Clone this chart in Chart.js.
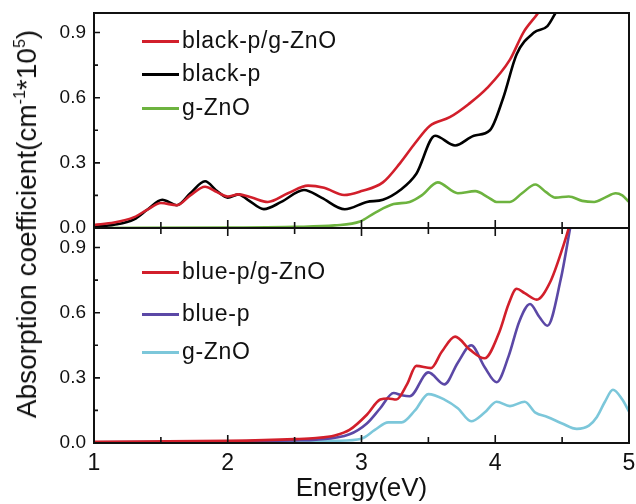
<!DOCTYPE html>
<html lang="en">
<head>
  <meta charset="UTF-8" />
  <title>Absorption spectra</title>
  <script src="https://cdn.jsdelivr.net/npm/chart.js"></script>
  <style>
    body { margin: 0; background: #fff; font-family: "Liberation Sans", Arial, sans-serif; }
    .wrap { position: relative; width: 636px; height: 504px; overflow: hidden; }
    .wrap canvas { position: absolute; left: 0; top: 0; }
    .ylabel { position: absolute; left: 27px; top: 224px; transform: translate(-50%, -50%) rotate(-90deg);
      white-space: nowrap; font-size: 28px; color: #111; }
    .ylabel sup { font-size: 16px; vertical-align: 11px; line-height: 0; }
    .legend { position: absolute; left: 142px; font-size: 23px; letter-spacing: 0.7px; color: #111; }
    .legend .row { position: absolute; left: 0; white-space: nowrap; height: 26px; line-height: 26px; }
    .legend .swatch { display: inline-block; width: 37px; height: 3px; vertical-align: middle; margin-right: 3px; }
  </style>
</head>
<body>
  <div class="wrap">
    <canvas id="topChart" width="636" height="504"></canvas>
    <canvas id="bottomChart" width="636" height="504"></canvas>
    <div class="ylabel">Absorption coefficient(cm<sup>-1</sup>*10<sup>5</sup>)</div>
    <div class="legend" id="topLegend" style="top:27px"></div>
    <div class="legend" id="bottomLegend" style="top:258px"></div>
  </div>

  <script>
    // tick labels
    const xTicks = [1, 2, 3, 4, 5];
    const yTicks = [0, 0.3, 0.6, 0.9];

    // top panel: black phosphorus
    const blackPZnO_x = [1.0, 1.15, 1.3, 1.4, 1.5, 1.62, 1.72, 1.83, 1.92, 2.0, 2.08, 2.18, 2.3, 2.45, 2.6, 2.72, 2.87, 3.0, 3.16, 3.29, 3.4, 3.51, 3.66, 3.8, 3.94, 4.11, 4.21, 4.32, 4.38];
    const blackPZnO_y = [0.014, 0.025, 0.05, 0.085, 0.115, 0.105, 0.15, 0.19, 0.165, 0.145, 0.155, 0.14, 0.12, 0.16, 0.195, 0.185, 0.152, 0.17, 0.21, 0.30, 0.39, 0.47, 0.51, 0.57, 0.645, 0.775, 0.90, 0.99, 1.05];
    const blackP_x = [1.0, 1.15, 1.3, 1.4, 1.51, 1.62, 1.72, 1.83, 1.92, 2.0, 2.08, 2.15, 2.27, 2.4, 2.57, 2.7, 2.875, 3.04, 3.16, 3.29, 3.41, 3.55, 3.70, 3.84, 3.96, 4.06, 4.16, 4.29, 4.39, 4.45, 4.5];
    const blackP_y = [0.005, 0.015, 0.04, 0.085, 0.13, 0.105, 0.16, 0.215, 0.17, 0.14, 0.155, 0.13, 0.087, 0.12, 0.175, 0.14, 0.086, 0.12, 0.13, 0.175, 0.25, 0.425, 0.38, 0.425, 0.45, 0.60, 0.80, 0.90, 0.93, 0.99, 1.05];
    const gZnOTop_x = [1.0, 2.0, 2.5, 2.8, 2.99, 3.1, 3.24, 3.36, 3.45, 3.57, 3.72, 3.85, 3.95, 4.01, 4.11, 4.2, 4.30, 4.38, 4.45, 4.55, 4.65, 4.74, 4.82, 4.90, 4.95, 5.0];
    const gZnOTop_y = [0.0, 0.002, 0.005, 0.012, 0.03, 0.07, 0.11, 0.12, 0.15, 0.21, 0.16, 0.17, 0.14, 0.12, 0.12, 0.16, 0.20, 0.165, 0.14, 0.145, 0.125, 0.12, 0.14, 0.16, 0.15, 0.12];

    // bottom panel: blue phosphorus
    const bluePZnO_x = [1.0, 2.0, 2.5, 2.66, 2.8, 2.91, 3.04, 3.14, 3.2, 3.26, 3.34, 3.41, 3.52, 3.60, 3.70, 3.81, 3.92, 4.03, 4.1, 4.16, 4.22, 4.31, 4.41, 4.51, 4.55];
    const bluePZnO_y = [0.005, 0.01, 0.018, 0.023, 0.035, 0.06, 0.13, 0.2, 0.205, 0.2, 0.27, 0.355, 0.345, 0.42, 0.49, 0.43, 0.39, 0.51, 0.64, 0.71, 0.69, 0.66, 0.74, 0.91, 0.99];
    const blueP_x = [1.0, 2.0, 2.5, 2.66, 2.91, 3.04, 3.14, 3.24, 3.30, 3.36, 3.50, 3.62, 3.72, 3.82, 3.92, 4.01, 4.1, 4.18, 4.26, 4.33, 4.39, 4.49, 4.56];
    const blueP_y = [0.003, 0.007, 0.012, 0.015, 0.04, 0.09, 0.16, 0.23, 0.22, 0.215, 0.325, 0.27, 0.37, 0.45, 0.35, 0.28, 0.40, 0.56, 0.64, 0.58, 0.54, 0.755, 0.99];
    const gZnOBot_x = [1.0, 2.0, 2.5, 2.8, 3.0, 3.1, 3.2, 3.3, 3.4, 3.5, 3.62, 3.72, 3.82, 3.92, 4.01, 4.11, 4.22, 4.3, 4.39, 4.5, 4.61, 4.7, 4.76, 4.82, 4.88, 4.95, 5.0];
    const gZnOBot_y = [0.002, 0.004, 0.006, 0.01, 0.02, 0.06, 0.095, 0.095, 0.15, 0.225, 0.2, 0.16, 0.10, 0.14, 0.19, 0.17, 0.19, 0.14, 0.12, 0.09, 0.065, 0.08, 0.12, 0.19, 0.245, 0.2, 0.145];

    const topNames = ["black-p/g-ZnO", "black-p", "g-ZnO"];
    const bottomNames = ["blue-p/g-ZnO", "blue-p", "g-ZnO"];
    const topColors = ["#d21f2b", "#000000", "#6db33f"];
    const bottomColors = ["#d21f2b", "#5b48a6", "#7cc7da"];

    const FONT = "'Liberation Sans', Arial, sans-serif";
    const W = 636, H = 504;
    const LEFT = 94, RIGHT = 629, TOP = 13, MID = 228, BOTTOM = 443;

    const pts = (xs, ys) => xs.map((x, i) => ({ x, y: ys[i] }));

    function makeSet(label, xs, ys, color) {
      return {
        label, data: pts(xs, ys), borderColor: color, backgroundColor: color,
        borderWidth: 2.6, pointRadius: 0, showLine: true, cubicInterpolationMode: "monotone"
      };
    }

    // frame and inward ticks, placed with the chart's own scales
    const framePlugin = {
      id: "frame",
      afterDraw(chart, args, opts) {
        const { ctx, chartArea: a, scales } = chart;
        const x = scales.x, y = scales.y;
        ctx.save();
        ctx.strokeStyle = "#111";
        ctx.lineWidth = 2;
        ctx.strokeRect(a.left, a.top, a.right - a.left, a.bottom - a.top);
        ctx.lineWidth = 1.6;
        ctx.beginPath();
        for (let v = 1; v <= 5.001; v += 0.5) {
          const px = x.getPixelForValue(v);
          const major = Math.abs(v - Math.round(v)) < 1e-6;
          const len = major ? 8 : 6;
          ctx.moveTo(px, a.bottom); ctx.lineTo(px, a.bottom - len);
          if (opts.below) { ctx.moveTo(px, a.bottom); ctx.lineTo(px, a.bottom + len); }
        }
        for (let v = 0; v <= 0.96; v += 0.15) {
          const py = y.getPixelForValue(v);
          const major = Math.round(v / 0.15) % 2 === 0;
          ctx.moveTo(a.left, py); ctx.lineTo(a.left + (major ? 6 : 4), py);
        }
        ctx.stroke();
        ctx.restore();
      }
    };

    function yScale() {
      return {
        min: 0, max: 0.99,
        afterFit: s => { s.width = LEFT; s.paddingTop = 0; s.paddingBottom = 0; },
        afterBuildTicks: s => { s.ticks = yTicks.map(v => ({ value: v })); },
        grid: { display: false, drawTicks: false },
        border: { display: false },
        ticks: { padding: 8, color: "#111", font: { family: FONT, size: 19 }, callback: v => v.toFixed(1) }
      };
    }

    new Chart(document.getElementById("topChart"), {
      type: "scatter",
      data: {
        datasets: [
          makeSet(topNames[0], blackPZnO_x, blackPZnO_y, topColors[0]),
          makeSet(topNames[1], blackP_x, blackP_y, topColors[1]),
          makeSet(topNames[2], gZnOTop_x, gZnOTop_y, topColors[2])
        ]
      },
      options: {
        responsive: false, animation: false,
        layout: { padding: { top: TOP, right: W - RIGHT, bottom: H - MID, left: 0 } },
        plugins: { legend: { display: false }, tooltip: { enabled: false }, frame: { below: true } },
        scales: {
          x: { type: "linear", min: 1, max: 5, display: false },
          y: yScale()
        }
      },
      plugins: [framePlugin]
    });

    new Chart(document.getElementById("bottomChart"), {
      type: "scatter",
      data: {
        datasets: [
          makeSet(bottomNames[0], bluePZnO_x, bluePZnO_y, bottomColors[0]),
          makeSet(bottomNames[1], blueP_x, blueP_y, bottomColors[1]),
          makeSet(bottomNames[2], gZnOBot_x, gZnOBot_y, bottomColors[2])
        ]
      },
      options: {
        responsive: false, animation: false,
        layout: { padding: { top: MID, right: W - RIGHT, bottom: 0, left: 0 } },
        plugins: { legend: { display: false }, tooltip: { enabled: false }, frame: { below: false } },
        scales: {
          x: {
            type: "linear", min: 1, max: 5,
            afterFit: s => { s.height = H - BOTTOM; s.paddingLeft = 0; s.paddingRight = 0; },
            afterBuildTicks: s => { s.ticks = xTicks.map(v => ({ value: v })); },
            grid: { display: false, drawTicks: false },
            border: { display: false },
            ticks: { padding: 7, color: "#111", maxRotation: 0, font: { family: FONT, size: 23 } },
            title: { display: true, text: "Energy(eV)", color: "#111", padding: { top: 0, bottom: 0 }, font: { family: FONT, size: 26 } }
          },
          y: yScale()
        }
      },
      plugins: [framePlugin]
    });

    function buildLegend(id, names, colors, rowTops) {
      const box = document.getElementById(id);
      names.forEach((n, i) => {
        const row = document.createElement("div");
        row.className = "row";
        row.style.top = rowTops[i] + "px";
        row.innerHTML = `<span class="swatch" style="background:${colors[i]}"></span>${n}`;
        box.appendChild(row);
      });
    }
    buildLegend("topLegend", topNames, topColors, [0, 33, 67]);
    buildLegend("bottomLegend", bottomNames, bottomColors, [0, 42, 80]);
  </script>
</body>
</html>
